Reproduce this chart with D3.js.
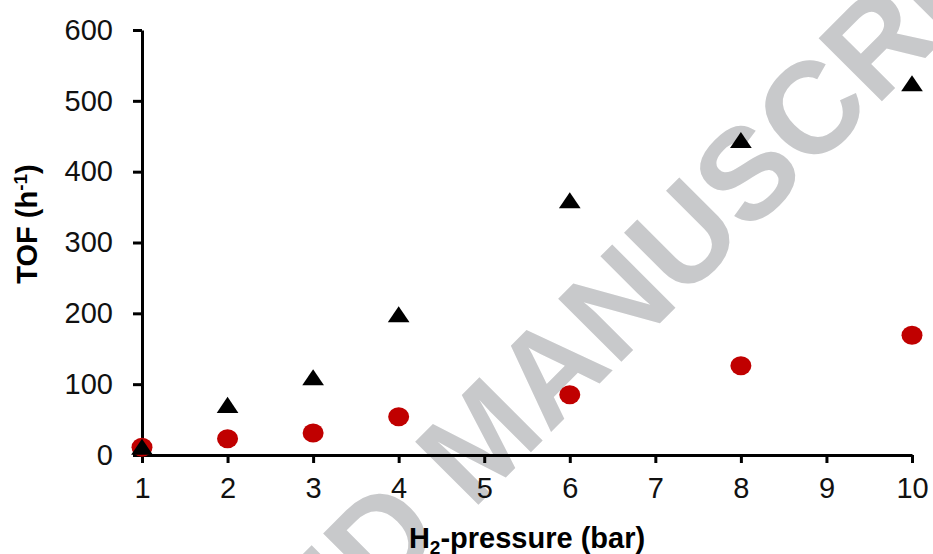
<!DOCTYPE html>
<html lang="en">
<head>
    <meta charset="UTF-8">
    <title>TOF vs H2-pressure</title>
    <script src="https://d3js.org/d3.v7.min.js"></script>
    <style>
        body { margin: 0; background: #fff; }
        svg { display: block; font-family: "Liberation Sans", Arial, sans-serif; }
        .axis path, .axis line { stroke: #000; stroke-width: 3px; }
        .axis text { font-size: 29px; fill: #111; }
        .title { font-size: 29px; font-weight: bold; fill: #000; }
    </style>
</head>
<body>
    <div id="chart"></div>
    <script>
        // pressures (bar) and TOF values (h-1)
        const pressure = [1, 2, 3, 4, 6, 8, 10];
        const tofTriangle = [8, 67, 106, 195, 356, 441, 521];
        const tofCircle = [11, 23, 31, 54, 85, 126, 169];
        const xTicks = [1, 2, 3, 4, 5, 6, 7, 8, 9, 10];
        const yTicks = [0, 100, 200, 300, 400, 500, 600];

        const width = 933, height = 554;
        const margin = { top: 30, right: 21, bottom: 99, left: 142 };

        const svg = d3.select('#chart')
            .append('svg')
            .attr('width', width)
            .attr('height', height);

        // watermark behind the plot
        svg.append('text')
            .attr('transform', 'translate(480,437) rotate(-45)')
            .attr('text-anchor', 'middle')
            .attr('dy', '0.36em')
            .style('font-size', '130px')
            .style('font-weight', 'bold')
            .style('fill', '#c8c9cb')
            .text('ACCEPTED MANUSCRIPT');

        const x = d3.scaleLinear()
            .domain([1, 10])
            .range([margin.left, width - margin.right]);

        const y = d3.scaleLinear()
            .domain([0, 600])
            .range([height - margin.bottom, margin.top]);

        svg.append('g')
            .attr('class', 'axis')
            .attr('transform', `translate(0,${height - margin.bottom})`)
            .call(d3.axisBottom(x).tickValues(xTicks).tickSize(8).tickPadding(14).tickSizeOuter(0))
            .call(g => g.selectAll('text').attr('dy', '0.71em'));

        svg.append('g')
            .attr('class', 'axis')
            .attr('transform', `translate(${margin.left},0)`)
            .call(d3.axisLeft(y).tickValues(yTicks).tickSize(9).tickPadding(20).tickSizeOuter(0));

        // red circles
        svg.append('g')
            .selectAll('ellipse')
            .data(pressure)
            .enter()
            .append('ellipse')
            .attr('cx', d => x(d))
            .attr('cy', (d, i) => y(tofCircle[i]))
            .attr('rx', 10.5)
            .attr('ry', 9.5)
            .style('fill', '#c00000');

        // black triangles
        const tri = d3.symbol().type(d3.symbolTriangle).size(175);
        svg.append('g')
            .selectAll('path')
            .data(pressure)
            .enter()
            .append('path')
            .attr('d', tri)
            .attr('transform', (d, i) => `translate(${x(d)},${y(tofTriangle[i])}) scale(1.08,0.92)`)
            .style('fill', '#000');

        // axis titles
        const xt = svg.append('text')
            .attr('class', 'title')
            .attr('x', 527)
            .attr('y', 548)
            .attr('text-anchor', 'middle');
        xt.append('tspan').text('H');
        xt.append('tspan').attr('dy', 6).style('font-size', '19px').text('2');
        xt.append('tspan').attr('dy', -6).text('-pressure (bar)');

        const yt = svg.append('text')
            .attr('class', 'title')
            .attr('transform', 'translate(37,224) rotate(-90)')
            .attr('text-anchor', 'middle');
        yt.append('tspan').text('TOF (h');
        yt.append('tspan').attr('dy', -10).style('font-size', '19px').text('-1');
        yt.append('tspan').attr('dy', 10).text(')');
    </script>
</body>
</html>
